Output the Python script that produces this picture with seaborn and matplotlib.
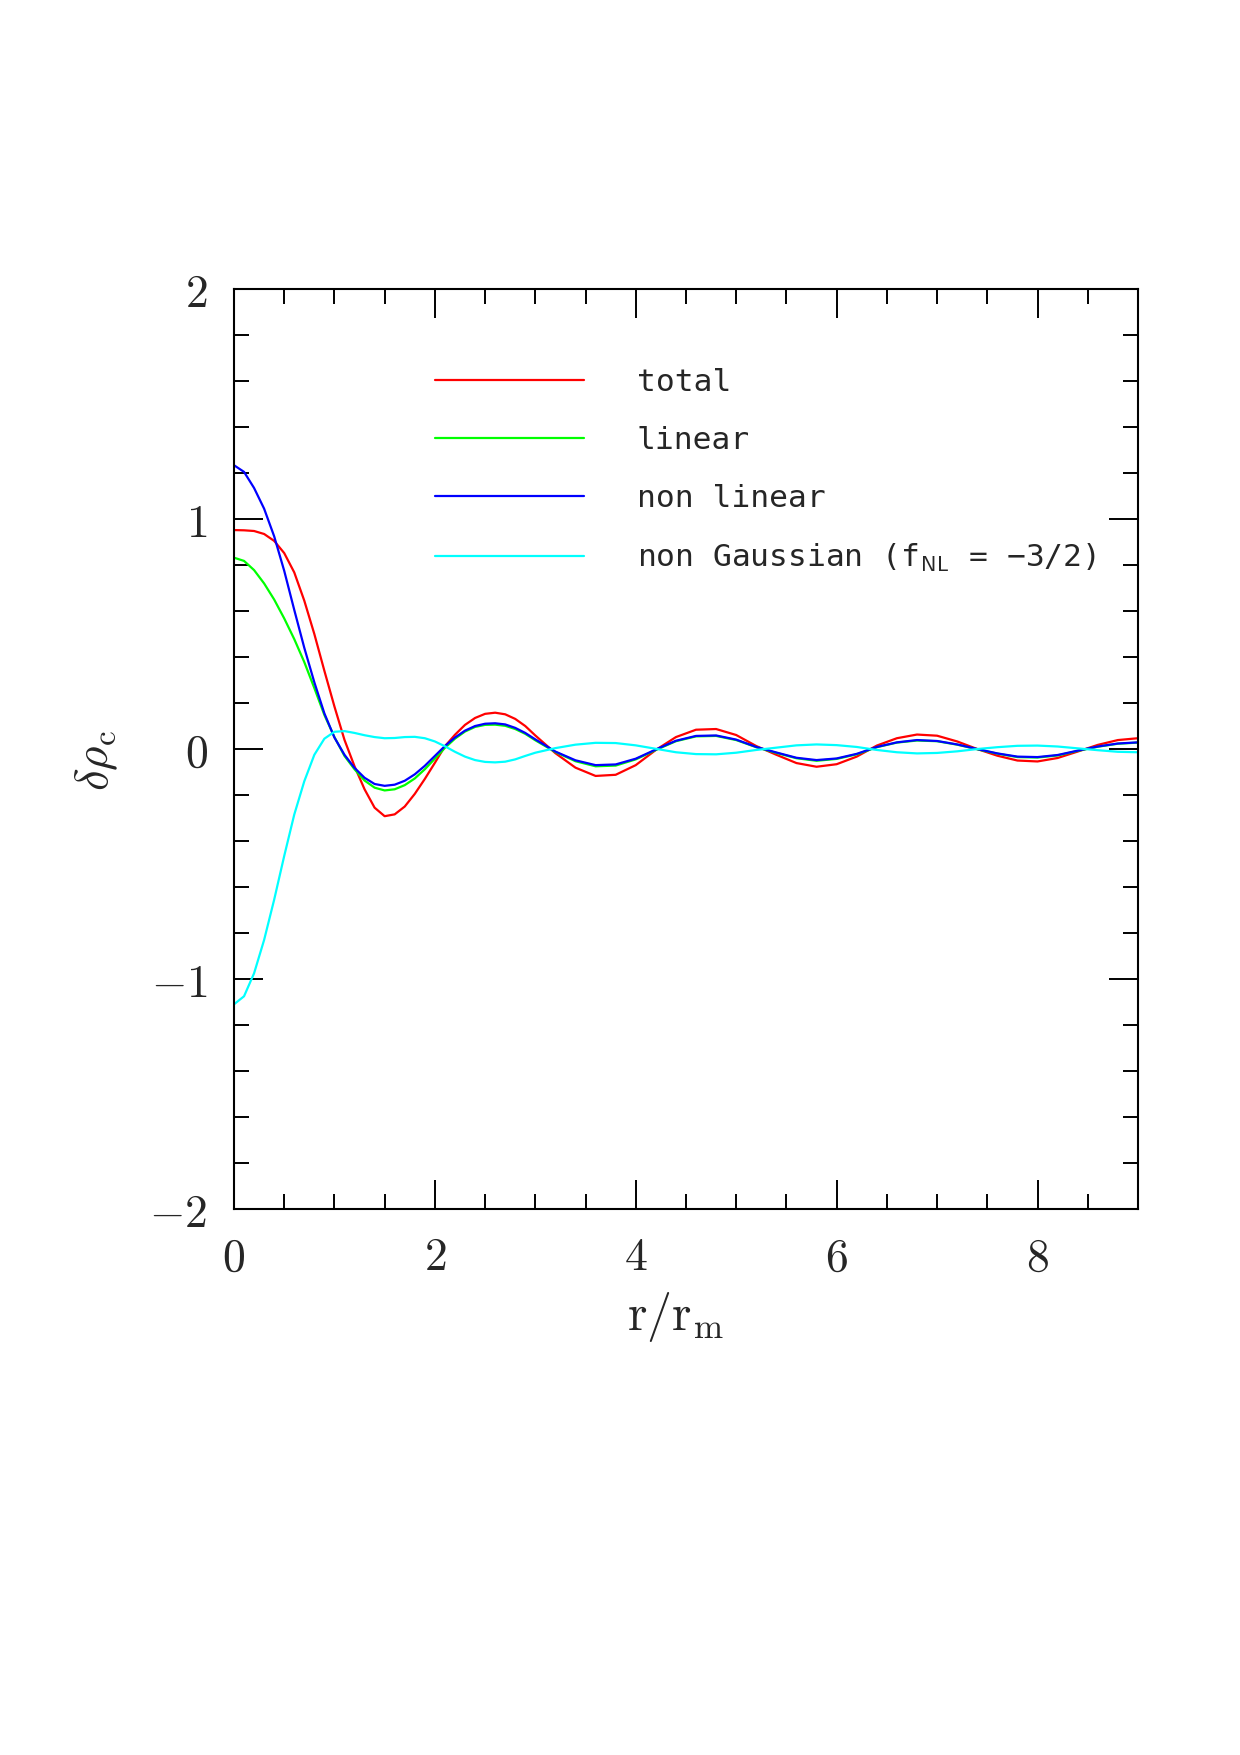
import numpy as np
import pandas as pd
import matplotlib
matplotlib.use('Agg')
import matplotlib.pyplot as plt
from matplotlib.ticker import MultipleLocator, FuncFormatter
import seaborn as sns

# sample radii r/r_m (fine steps near the centre, coarser further out)
r = [0.0, 0.1, 0.2, 0.3, 0.4, 0.5, 0.6, 0.7, 0.8, 0.9, 1.0,
     1.1, 1.2, 1.3, 1.4, 1.5, 1.6, 1.7, 1.8, 1.9, 2.0,
     2.1, 2.2, 2.3, 2.4, 2.5, 2.6, 2.7, 2.8, 2.9, 3.0,
     3.2, 3.4, 3.6, 3.8, 4.0, 4.2, 4.4, 4.6, 4.8, 5.0,
     5.2, 5.4, 5.6, 5.8, 6.0, 6.2, 6.4, 6.6, 6.8, 7.0,
     7.2, 7.4, 7.6, 7.8, 8.0, 8.2, 8.4, 8.6, 8.8, 9.0]

total = [0.952, 0.951, 0.948, 0.935, 0.905, 0.852, 0.768, 0.645, 0.500, 0.340, 0.185,
         0.040, -0.075, -0.175, -0.255, -0.292, -0.284, -0.250, -0.195, -0.130, -0.060,
         0.012, 0.062, 0.105, 0.135, 0.153, 0.158, 0.151, 0.131, 0.100, 0.059,
         -0.018, -0.081, -0.117, -0.112, -0.070, -0.004, 0.052, 0.084, 0.087, 0.061,
         0.013, -0.025, -0.061, -0.077, -0.066, -0.033, 0.015, 0.047, 0.063, 0.058,
         0.033, 0.000, -0.029, -0.050, -0.054, -0.039, -0.011, 0.018, 0.039, 0.047]

linear = [0.832, 0.818, 0.778, 0.720, 0.650, 0.568, 0.478, 0.378, 0.265, 0.148, 0.052,
          -0.030, -0.088, -0.137, -0.168, -0.180, -0.175, -0.157, -0.128, -0.088, -0.042,
          0.005, 0.045, 0.076, 0.096, 0.105, 0.106, 0.101, 0.087, 0.066, 0.038,
          -0.013, -0.053, -0.075, -0.072, -0.045, -0.004, 0.034, 0.055, 0.057, 0.039,
          0.008, -0.017, -0.040, -0.051, -0.043, -0.023, 0.008, 0.028, 0.037, 0.034,
          0.019, -0.001, -0.020, -0.035, -0.037, -0.028, -0.008, 0.010, 0.023, 0.028]

non_linear = [1.234, 1.205, 1.135, 1.045, 0.925, 0.775, 0.605, 0.440, 0.290, 0.155, 0.050,
              -0.025, -0.082, -0.125, -0.152, -0.160, -0.155, -0.138, -0.110, -0.073, -0.030,
              0.013, 0.050, 0.080, 0.100, 0.110, 0.112, 0.107, 0.092, 0.070, 0.042,
              -0.011, -0.049, -0.070, -0.067, -0.042, -0.002, 0.036, 0.057, 0.059, 0.041,
              0.009, -0.015, -0.038, -0.048, -0.041, -0.021, 0.009, 0.029, 0.039, 0.035,
              0.020, 0.000, -0.019, -0.033, -0.035, -0.026, -0.007, 0.011, 0.024, 0.029]

non_gaussian = [-1.110, -1.075, -0.975, -0.830, -0.655, -0.465, -0.285, -0.140, -0.025, 0.045, 0.075,
                0.078, 0.070, 0.060, 0.052, 0.047, 0.048, 0.052, 0.053, 0.047, 0.033,
                0.012, -0.012, -0.033, -0.048, -0.056, -0.058, -0.055, -0.045, -0.030, -0.016,
                0.004, 0.019, 0.027, 0.026, 0.016, 0.001, -0.014, -0.022, -0.023, -0.016,
                -0.004, 0.006, 0.016, 0.020, 0.017, 0.009, -0.004, -0.014, -0.019, -0.017,
                -0.010, 0.000, 0.008, 0.014, 0.015, 0.011, 0.003, -0.005, -0.012, -0.014]

labels = ['total', 'linear', 'non linear',
          'non Gaussian (f$_{\\mathsf{NL}}$ = \u22123/2)']
colors = ['#ff0000', '#00ff00', '#0000ff', '#00ffff']

sns.set_style('ticks')
plt.rcParams['mathtext.fontset'] = 'cm'
plt.rcParams['font.family'] = ['DejaVu Sans Mono']

df = pd.DataFrame({
    'r': r * 4,
    'value': total + linear + non_linear + non_gaussian,
    'curve': np.repeat(labels, len(r)),
})

fig = plt.figure(figsize=(12.4, 17.55), dpi=100)
ax = fig.add_axes([0.1887, 0.3111, 0.7290, 0.5242])

sns.lineplot(data=df, x='r', y='value', hue='curve', hue_order=labels,
             palette=dict(zip(labels, colors)), estimator=None, sort=False,
             linewidth=1.6, ax=ax)

ax.set_xlim(0, 9)
ax.set_ylim(-2, 2)
ax.xaxis.set_major_locator(MultipleLocator(2))
ax.xaxis.set_minor_locator(MultipleLocator(0.5))
ax.yaxis.set_major_locator(MultipleLocator(1))
ax.yaxis.set_minor_locator(MultipleLocator(0.2))
fmt = FuncFormatter(lambda v, p: '$%d$' % round(v))
ax.xaxis.set_major_formatter(fmt)
ax.yaxis.set_major_formatter(fmt)

ax.tick_params(which='both', direction='in', top=True, right=True,
               width=1.4, color='black')
ax.tick_params(which='major', length=21, labelsize=33, pad=19)
ax.tick_params(which='minor', length=10.5)
for s in ax.spines.values():
    s.set_linewidth(1.5)
    s.set_color('black')

ax.set_xlabel(r'$\mathrm{r/r_m}$', fontsize=36)
ax.xaxis.set_label_coords(0.488, -0.088)
ax.set_ylabel(r'$\delta\rho_{\mathrm{c}}$', fontsize=34)
ax.yaxis.set_label_coords(-0.126, 0.488)

ax.legend(loc='upper left', bbox_to_anchor=(0.222, 0.9145), frameon=False,
          fontsize=22.5, handlelength=4.77, handletextpad=1.70,
          labelspacing=0.93, borderpad=0, borderaxespad=0)

fig.savefig('out.png', dpi=100)
